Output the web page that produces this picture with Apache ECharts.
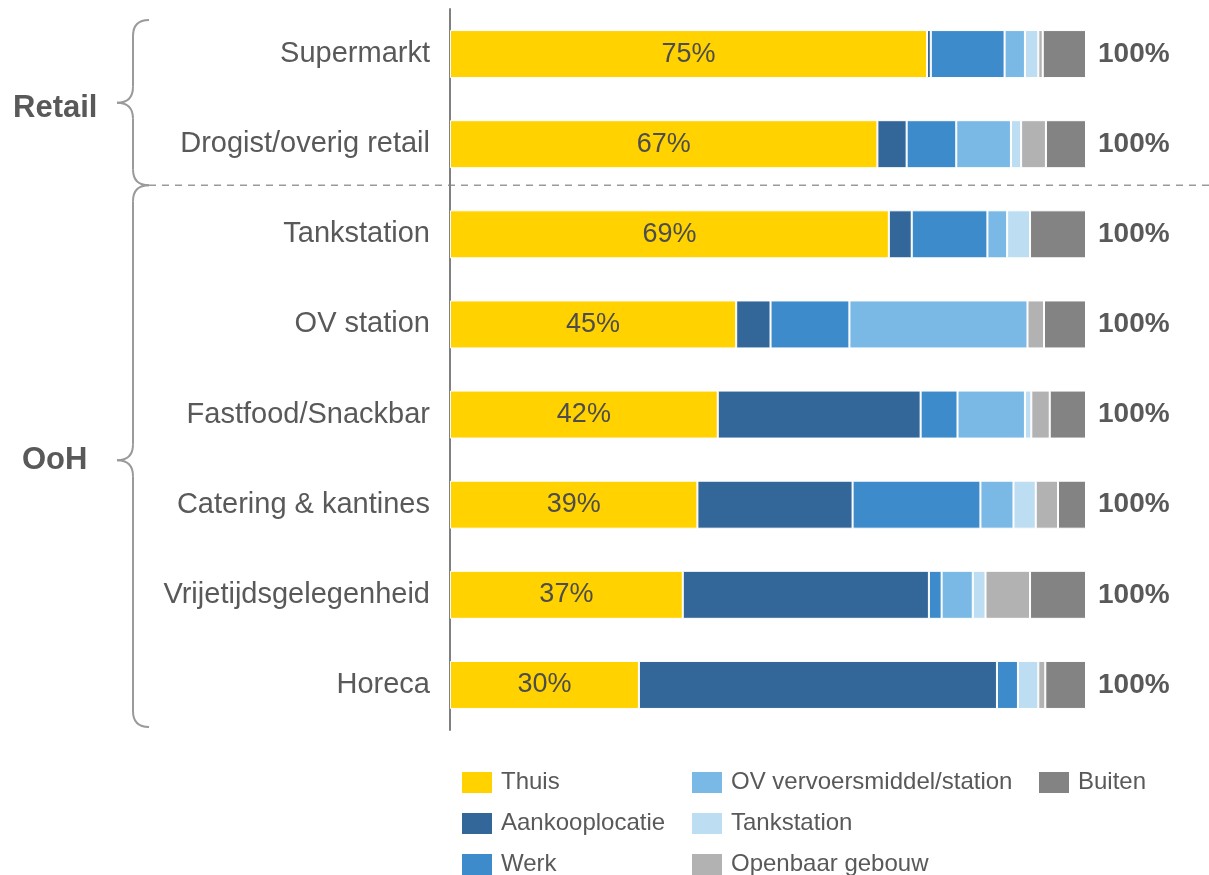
<!DOCTYPE html>
<html>
<head>
<meta charset="utf-8">
<script src="https://cdn.jsdelivr.net/npm/echarts@6/dist/echarts.min.js"></script>
<style>html,body{margin:0;padding:0;background:#fff}#c{width:1209px;height:875px}</style>
</head>
<body>
<div id="c"></div>
<script>
var categories = ['Supermarkt', 'Drogist/overig retail', 'Tankstation', 'OV station', 'Fastfood/Snackbar', 'Catering & kantines', 'Vrijetijdsgelegenheid', 'Horeca'];
var seriesNames = ['Thuis', 'Aankooplocatie', 'Werk', 'OV vervoersmiddel/station', 'Tankstation', 'Openbaar gebouw', 'Buiten'];
var thuis     = [75.0, 67.2, 69.0, 45.0, 42.1, 38.9, 36.6, 29.7];
var aankoop   = [0.6, 4.6, 3.6, 5.4, 31.9, 24.4, 38.7, 56.3];
var werk      = [11.6, 7.8, 11.9, 12.4, 5.8, 20.1, 2.0, 3.3];
var ov        = [3.2, 8.6, 3.1, 28.0, 10.6, 5.2, 4.9, 0];
var tank      = [2.1, 1.6, 3.6, 0, 1.0, 3.5, 2.0, 3.2];
var openbaar  = [0.7, 3.9, 0, 2.6, 2.9, 3.5, 7.0, 1.1];
var buiten    = [6.8, 6.3, 8.8, 6.6, 5.7, 4.4, 8.8, 6.4];
var groupNames = ['Retail', 'OoH'];
var groupFrom = [0, 2];
var groupTo = [1, 7];

var colors = ['#FFD200', '#346799', '#3E8BCB', '#7AB9E5', '#BDDDF2', '#B2B2B2', '#838383'];
var allData = [thuis, aankoop, werk, ov, tank, openbaar, buiten];
var FONT = '"Liberation Sans", Arial, sans-serif';
var TXT = '#595959';

var chart = echarts.init(document.getElementById('c'), null, {renderer: 'canvas'});

var series = seriesNames.map(function (name, i) {
  var s = {
    name: name,
    type: 'bar',
    stack: 'total',
    barWidth: 48,
    data: allData[i],
    itemStyle: {color: colors[i], borderColor: '#ffffff', borderWidth: 1},
    emphasis: {disabled: true}
  };
  if (i === 0) {
    s.label = {show: true, position: 'inside', color: '#4d4d4d', fontSize: 27, fontFamily: FONT,
      formatter: function (p) { return Math.round(p.value) + '%'; }};
  }
  if (i === seriesNames.length - 1) {
    s.label = {show: true, position: 'right', distance: 12, color: TXT, fontSize: 28, fontWeight: 'bold', fontFamily: FONT,
      formatter: function (p) {
        var t = 0;
        allData.forEach(function (arr) { t += arr[p.dataIndex]; });
        return Math.round(t) + '%';
      }};
  }
  return s;
});

function legendCol(names, left) {
  return {
    data: names, orient: 'vertical', left: left, top: 770, height: 110, padding: 0,
    itemWidth: 32, itemHeight: 23, itemGap: 16, icon: 'rect',
    textStyle: {color: TXT, fontSize: 24, lineHeight: 23, fontFamily: FONT, padding: [0, 0, 0, 3]},
    selectedMode: false
  };
}

chart.setOption({
  animation: false,
  grid: {left: 450, right: 123, top: 9, bottom: 145},
  xAxis: {type: 'value', min: 0, max: 100, show: false},
  yAxis: {
    type: 'category', data: categories, inverse: true,
    axisLine: {show: true, lineStyle: {color: '#808080', width: 2}},
    axisTick: {show: false},
    axisLabel: {color: TXT, fontSize: 29, fontFamily: FONT, margin: 20}
  },
  legend: [
    legendCol(seriesNames.slice(0, 3), 460),
    legendCol(seriesNames.slice(3, 6), 690),
    legendCol(seriesNames.slice(6), 1037)
  ],
  series: series
});

function drawGroups() {
  var g = [];
  var py = function (c) { return chart.convertToPixel({yAxisIndex: 0}, c); };
  var step = py(categories[1]) - py(categories[0]);
  var bx = 133, tipX = 117, r = 16;
  var st = {stroke: '#9a9a9a', lineWidth: 2, fill: null};
  var n = groupNames.length;
  groupNames.forEach(function (name, gi) {
    var yTop = gi === 0 ? py(categories[groupFrom[gi]]) - step / 2 + 11 : py(categories[groupFrom[gi]]) - step / 2 - 4;
    var yBot = gi === n - 1 ? py(categories[groupTo[gi]]) + step / 2 - 3 : py(categories[groupTo[gi]]) + step / 2 - 4;
    var yMid = (yTop + yBot) / 2 + (gi === 0 ? 0 : 4);
    g.push({type: 'bezierCurve', shape: {x1: bx + r, y1: yTop, cpx1: bx, cpy1: yTop, x2: bx, y2: yTop + r}, style: st, silent: true});
    g.push({type: 'line', shape: {x1: bx, y1: yTop + r, x2: bx, y2: yMid - r}, style: st, silent: true});
    g.push({type: 'bezierCurve', shape: {x1: bx, y1: yMid - r, cpx1: bx, cpy1: yMid, x2: tipX, y2: yMid}, style: st, silent: true});
    g.push({type: 'bezierCurve', shape: {x1: tipX, y1: yMid, cpx1: bx, cpy1: yMid, x2: bx, y2: yMid + r}, style: st, silent: true});
    g.push({type: 'line', shape: {x1: bx, y1: yMid + r, x2: bx, y2: yBot - r}, style: st, silent: true});
    g.push({type: 'bezierCurve', shape: {x1: bx, y1: yBot - r, cpx1: bx, cpy1: yBot, x2: bx + r, y2: yBot}, style: st, silent: true});
    g.push({type: 'text', x: gi === 0 ? 13 : 22, y: yMid + (gi === 0 ? 6 : 0),
      style: {text: name, fill: TXT, font: 'bold 31px ' + FONT, verticalAlign: 'middle'}, silent: true});
    if (gi < n - 1) {
      g.push({type: 'line', shape: {x1: bx + r, y1: yBot, x2: 1209, y2: yBot},
        style: {stroke: '#9a9a9a', lineWidth: 1.5, lineDash: [7, 6]}, silent: true});
    }
  });
  chart.setOption({graphic: g});
}
drawGroups();
</script>
</body>
</html>
